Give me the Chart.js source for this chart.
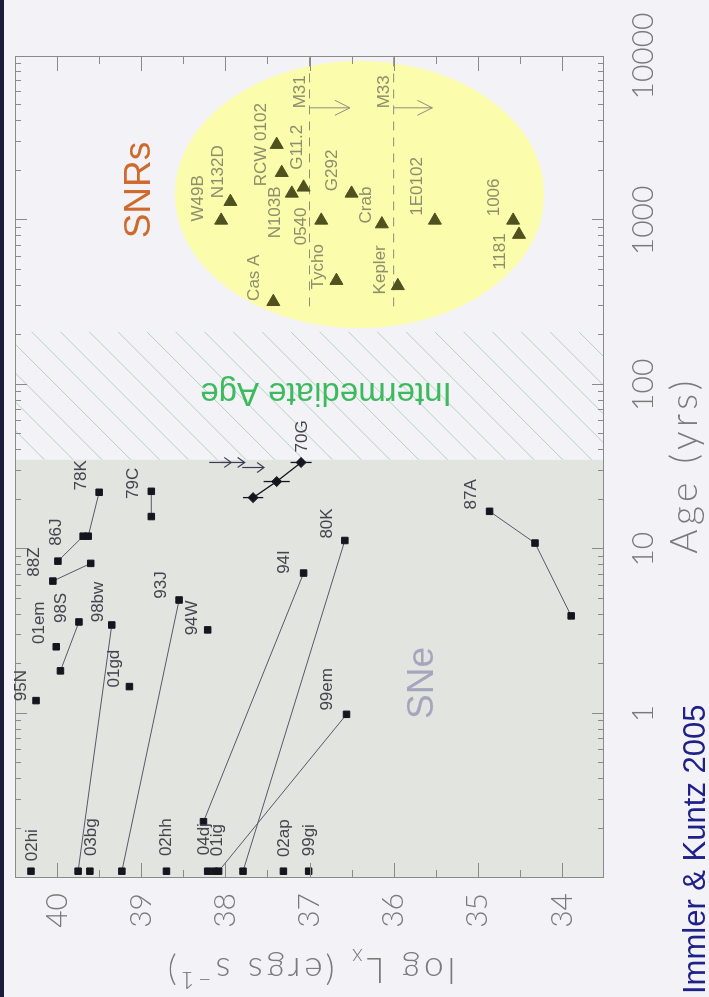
<!DOCTYPE html>
<html>
<head>
<meta charset="utf-8">
<script src="https://cdn.jsdelivr.net/npm/chart.js@4.4.1/dist/chart.umd.min.js"></script>
<style>
  html, body { margin: 0; padding: 0; width: 709px; height: 997px; overflow: hidden; background: #f3f3f7; }
  /* the figure is laid out landscape and turned a quarter turn to stand upright */
  #stage { position: absolute; left: 0; top: 0; width: 997px; height: 709px;
           transform-origin: 0 0; transform: translate(0, 997px) rotate(-90deg); }
  canvas { display: block; }
</style>
</head>
<body>
<div id="stage"><canvas id="chart" width="997" height="709"></canvas></div>
<script>
// ---- axes ----
const ageTicks = [1, 10, 100, 1000, 10000];
const ageTickLabels = ['1', '10', '100', '1000', '10000'];
const lxTicks = [34, 35, 36, 37, 38, 39, 40];
const lxTickLabels = ['34', '35', '36', '37', '38', '39', '40'];

// ---- supernovae: age (yr) and log Lx (erg/s) per object ----
const sneNames = ['02hi', '03bg', '02hh', '04dj', '01ig', '02ap', '99gi', '98bw', '93J', '99em', '80K', '94I',
                  '95N', '01gd', '01em', '94W', '98S', '88Z', '86J', '78K', '79C', '87A'];
const sneAges = [[0.11], [0.11], [0.11], [0.11], [0.11], [0.11], [0.11], [0.11, 3.46], [0.11, 4.91], [0.11, 0.99],
                 [0.11, 11.3], [0.22, 7.16], [1.2], [1.46], [2.55], [3.23], [1.82, 3.61], [6.4, 8.2], [8.46, 12.0],
                 [12.0, 22.2], [15.8, 22.5], [3.93, 10.9, 17.0]];
const sneLx = [[40.31], [39.61], [38.70], [38.21], [38.13], [37.31], [37.01], [39.75, 39.35], [39.23, 38.55],
               [38.08, 36.56], [37.79, 36.58], [38.26, 37.07], [40.25], [39.14], [40.01], [38.21], [39.96, 39.74],
               [40.05, 39.60], [39.99, 39.69], [39.63, 39.50], [38.88, 38.88], [33.89, 34.32, 34.86]];

// ---- SN 1970G: detections with errors, and upper limits ----
const g70Ages = [20.6, 25.8, 33.7];
const g70Lx = [37.67, 37.39, 37.10];
const g70Err = [0.12, 0.155, 0.125];
const g70LimitAges = [33.7, 33.7, 31.4];
const g70LimitLx = [38.19, 38.05, 37.80];
const g70LimitTipLx = [37.93, 37.77, 37.54];

// ---- supernova remnants ----
const snrNames = ['Cas A', 'W49B', 'N132D', 'RCW 0102', '', 'N103B', 'G11.2', '0540', 'Tycho', 'G292', 'Crab',
                  'Kepler', '1E0102', '1006', '1181'];
const snrAges = [320, 1000, 1300, 2890, 1950, 1460, 1590, 1000, 430, 1460, 950, 400, 1000, 1000, 820];
const snrLx = [37.43, 38.05, 37.94, 37.39, 37.33, 37.21, 37.07, 36.86, 36.68, 36.50, 36.14, 35.95, 35.51, 34.58, 34.51];

// ---- M31 / M33 remnant detection limits ----
const galaxyNames = ['M31', 'M33'];
const galaxyLimitLx = [37.0, 36.0];
const galaxyLimitAges = [300, 10000];
const galaxyArrowAge = 4840;
const galaxyArrowTipLx = [36.52, 35.54];

// ---- shaded zones ----
const sneZoneAges = [0.1, 35];
const midZoneAges = [35, 210];
const snrZoneAges = [221, 9330];
const snrZoneLx = [34.21, 38.60];

// ---- label placement (pixel nudges from the anchor mark) ----
const sneLabelAnchor = { '99em': 1, '80K': 1, '94I': 1, '98bw': 1, '93J': 1, '98S': 1, '78K': 1, '79C': 1, '87A': 2 };
const sneLabelNudge = {
  '02hi': [26, 1], '03bg': [34, 1], '02hh': [34, 0], '04dj': [32, -3], '01ig': [31, 3], '02ap': [33, 1],
  '99gi': [31, 1], '99em': [25, -19], '80K': [17, -18], '94I': [11, -19], '98bw': [23, -13], '93J': [15, -18],
  '95N': [15, -15], '01gd': [18, -15], '01em': [24, -17], '94W': [12, -15], '98S': [14, -18], '88Z': [19, -19],
  '86J': [29, -2], '78K': [17, -18], '79C': [8, -18], '87A': [17, -18]
};
const snrLabelNudge = [[24, -19], [22, -23], [30, -12], [0, -15], [0, 0], [-19, -17], [40, -6], [-6, -20],
                       [14, -18], [23, -19], [19, -16], [16, -18], [34, -18], [23, -19], [-17, -19]];

const C = {
  page: '#f3f3f7', strip: '#1b1b3a', sneZone: '#e2e4df', hatch: '#b3d2bc', snrZone: '#fcfcad',
  frame: '#8a8a8a', axisText: '#7a7a7a', sneMark: '#15151f', sneLine: '#58586c', sneText: '#45454f',
  snrMark: '#4f511f', snrText: '#8e8e6c', limit: '#8e8e82', g70Arrow: '#3c3c58',
  sneWord: '#a5a5be', snrWord: '#cf6a2c', midWord: '#3dba5d', credit: '#20208a'
};
const LABEL_FONT = '17px "Liberation Sans", Arial, sans-serif';
const AXIS_FAMILY = 'Lato, "Liberation Sans", sans-serif';

function arrowDown(ctx, x, y0, y1, wing, spread) {
  ctx.beginPath();
  ctx.moveTo(x, y0); ctx.lineTo(x, y1);
  ctx.moveTo(x - spread, y1 - wing); ctx.lineTo(x, y1); ctx.lineTo(x + spread, y1 - wing);
  ctx.stroke();
}

const decor = {
  id: 'decor',
  beforeDraw(chart) {
    const ctx = chart.ctx;
    ctx.save();
    ctx.fillStyle = C.page; ctx.fillRect(0, 0, chart.width, chart.height);
    ctx.fillStyle = C.strip; ctx.fillRect(0, 0, chart.width, 4);
    ctx.restore();
  },
  beforeDatasetsDraw(chart) {
    const { ctx, chartArea: a, scales: { x, y } } = chart;
    ctx.save();
    ctx.beginPath(); ctx.rect(a.left, a.top, a.right - a.left, a.bottom - a.top); ctx.clip();

    // young supernova zone
    const s0 = x.getPixelForValue(sneZoneAges[0]), s1 = x.getPixelForValue(sneZoneAges[1]);
    ctx.fillStyle = C.sneZone; ctx.fillRect(s0, a.top, s1 - s0, a.bottom - a.top);

    // intermediate-age band, hatched
    const h0 = x.getPixelForValue(midZoneAges[0]), h1 = x.getPixelForValue(midZoneAges[1]);
    ctx.save();
    ctx.beginPath(); ctx.rect(h0, a.top, h1 - h0, a.bottom - a.top); ctx.clip();
    ctx.strokeStyle = C.hatch; ctx.lineWidth = 1;
    const step = 28.8, base = h1 + 31.7;
    const k0 = Math.floor((h0 + a.top - base) / step) - 1;
    for (let c = base + k0 * step; c <= h1 + a.bottom + step; c += step) {
      ctx.beginPath(); ctx.moveTo(c - a.top, a.top); ctx.lineTo(c - a.bottom, a.bottom); ctx.stroke();
    }
    ctx.restore();

    // remnant zone
    const ex0 = x.getPixelForValue(snrZoneAges[0]), ex1 = x.getPixelForValue(snrZoneAges[1]);
    const ey0 = y.getPixelForValue(snrZoneLx[1]), ey1 = y.getPixelForValue(snrZoneLx[0]);
    ctx.fillStyle = C.snrZone;
    ctx.beginPath();
    ctx.ellipse((ex0 + ex1) / 2, (ey0 + ey1) / 2, (ex1 - ex0) / 2, (ey1 - ey0) / 2, 0, 0, Math.PI * 2);
    ctx.fill();

    // zone names
    ctx.font = '37px "Liberation Sans", Arial, sans-serif';
    ctx.textAlign = 'center'; ctx.textBaseline = 'alphabetic';
    ctx.fillStyle = C.sneWord; ctx.fillText('SNe', 314, 433);
    ctx.fillStyle = C.snrWord; ctx.fillText('SNRs', 807, 150);
    ctx.save();
    ctx.translate(614, 326); ctx.rotate(-Math.PI / 2);
    ctx.font = '33px "Liberation Sans", Arial, sans-serif';
    ctx.fillStyle = C.midWord; ctx.fillText('Intermediate Age', 0, 0);
    ctx.restore();

    // M31 / M33 limits
    ctx.strokeStyle = C.limit; ctx.fillStyle = C.snrText; ctx.lineWidth = 1;
    ctx.font = LABEL_FONT;
    galaxyNames.forEach((name, i) => {
      const ly = y.getPixelForValue(galaxyLimitLx[i]);
      ctx.setLineDash([9, 7]);
      ctx.beginPath();
      ctx.moveTo(x.getPixelForValue(galaxyLimitAges[0]), ly);
      ctx.lineTo(x.getPixelForValue(galaxyLimitAges[1]), ly);
      ctx.stroke();
      ctx.setLineDash([]);
      const ax = x.getPixelForValue(galaxyArrowAge);
      arrowDown(ctx, ax, ly, y.getPixelForValue(galaxyArrowTipLx[i]), 15, 7.5);
      ctx.textAlign = 'center'; ctx.textBaseline = 'alphabetic';
      ctx.fillText(name, ax + 16, ly - 5);
    });
    ctx.restore();

    // SN 1970G error bars and upper limits
    ctx.save();
    ctx.strokeStyle = C.sneMark; ctx.lineWidth = 1.3;
    g70Ages.forEach((age, i) => {
      const px = x.getPixelForValue(age);
      ctx.beginPath();
      ctx.moveTo(px, y.getPixelForValue(g70Lx[i] + g70Err[i]));
      ctx.lineTo(px, y.getPixelForValue(g70Lx[i] - g70Err[i]));
      ctx.stroke();
    });
    ctx.strokeStyle = C.g70Arrow; ctx.lineWidth = 1.2;
    g70LimitAges.forEach((age, i) => {
      arrowDown(ctx, x.getPixelForValue(age), y.getPixelForValue(g70LimitLx[i]),
                y.getPixelForValue(g70LimitTipLx[i]), 7, 5);
    });
    ctx.restore();
  },
  afterDatasetsDraw(chart) {
    const { ctx, chartArea: a, scales: { x, y } } = chart;
    ctx.save();
    // frame and inward ticks
    ctx.strokeStyle = C.frame; ctx.lineWidth = 1;
    ctx.strokeRect(a.left + 0.5, a.top + 0.5, a.right - a.left - 1, a.bottom - a.top - 1);
    ctx.beginPath();
    for (let d = -1; d <= 3; d++) {
      for (let m = 1; m <= 9; m++) {
        const v = m * Math.pow(10, d);
        if (v <= 0.1 || v > 10000) continue;
        const px = Math.round(x.getPixelForValue(v)) + 0.5;
        const len = m === 1 ? 12 : 6;
        ctx.moveTo(px, a.bottom); ctx.lineTo(px, a.bottom - len);
        ctx.moveTo(px, a.top); ctx.lineTo(px, a.top + len);
      }
    }
    for (let v = 34; v <= 40.01; v += 0.5) {
      const py = Math.round(y.getPixelForValue(v)) + 0.5;
      const len = Number.isInteger(v) ? 15 : 8;
      ctx.moveTo(a.left, py); ctx.lineTo(a.left + len, py);
      ctx.moveTo(a.right, py); ctx.lineTo(a.right - len, py);
    }
    ctx.stroke();

    // object names
    ctx.font = LABEL_FONT; ctx.textAlign = 'center'; ctx.textBaseline = 'middle';
    ctx.fillStyle = C.sneText;
    sneNames.forEach((name, i) => {
      const j = sneLabelAnchor[name] || 0;
      const [dx, dy] = sneLabelNudge[name];
      ctx.fillText(name, x.getPixelForValue(sneAges[i][j]) + dx, y.getPixelForValue(sneLx[i][j]) + dy);
    });
    const gi = g70Ages.length - 1;
    ctx.fillText('70G', x.getPixelForValue(g70Ages[gi]) + 26, y.getPixelForValue(g70Lx[gi]) + 1);
    ctx.fillStyle = C.snrText;
    snrNames.forEach((name, i) => {
      if (!name) return;
      const [dx, dy] = snrLabelNudge[i];
      ctx.fillText(name, x.getPixelForValue(snrAges[i]) + dx, y.getPixelForValue(snrLx[i]) + dy);
    });
    ctx.restore();
  },
  afterDraw(chart) {
    const ctx = chart.ctx, a = chart.chartArea;
    ctx.save();
    ctx.fillStyle = C.axisText;
    ctx.textBaseline = 'alphabetic';
    // horizontal axis title
    ctx.font = '300 37px ' + AXIS_FAMILY; ctx.textAlign = 'center';
    ctx.letterSpacing = '4.5px';
    ctx.fillText('Age (yrs)', (a.left + a.right) / 2 + 2, 697);
    // vertical axis title with sub/superscripts
    ctx.letterSpacing = '4px';
    const parts = [
      { t: 'log L', s: 35, dy: 0 }, { t: 'x', s: 23, dy: 9 }, { t: ' (ergs s', s: 35, dy: 0 },
      { t: '\u22121', s: 23, dy: -14 }, { t: ')', s: 35, dy: 0 }
    ];
    let total = 0;
    parts.forEach(p => { ctx.font = '300 ' + p.s + 'px ' + AXIS_FAMILY; p.w = ctx.measureText(p.t).width; total += p.w; });
    ctx.save();
    ctx.translate(39, (a.top + a.bottom) / 2); ctx.rotate(-Math.PI / 2);
    ctx.textAlign = 'left';
    let u = -total / 2;
    parts.forEach(p => { ctx.font = '300 ' + p.s + 'px ' + AXIS_FAMILY; ctx.fillText(p.t, u, p.dy); u += p.w; });
    ctx.restore();
    ctx.letterSpacing = '0px';
    // credit line
    ctx.font = '31px "Liberation Sans", Arial, sans-serif';
    ctx.fillStyle = C.credit; ctx.textAlign = 'left';
    ctx.fillText('Immler & Kuntz 2005', 3, 705);
    ctx.restore();
  }
};

const datasets = [];
sneNames.forEach((name, i) => {
  datasets.push({
    label: name,
    data: sneAges[i].map((age, j) => ({ x: age, y: sneLx[i][j] })),
    showLine: sneAges[i].length > 1,
    borderColor: C.sneLine, borderWidth: 1,
    pointStyle: 'rect', pointRadius: 4.6,
    pointBackgroundColor: C.sneMark, pointBorderColor: C.sneMark, pointBorderWidth: 1
  });
});
datasets.push({
  label: '70G',
  data: g70Ages.map((age, j) => ({ x: age, y: g70Lx[j] })),
  showLine: true, borderColor: C.sneMark, borderWidth: 1.3,
  pointStyle: 'rectRot', pointRadius: 5,
  pointBackgroundColor: C.sneMark, pointBorderColor: C.sneMark, pointBorderWidth: 1
});
datasets.push({
  label: 'SNRs',
  data: snrAges.map((age, j) => ({ x: age, y: snrLx[j] })),
  showLine: false,
  pointStyle: 'triangle', pointRadius: 7.5, rotation: 90,
  pointBackgroundColor: C.snrMark, pointBorderColor: C.snrMark, pointBorderWidth: 1
});

const tickFont = { family: AXIS_FAMILY, size: 30, weight: '300' };

new Chart(document.getElementById('chart'), {
  type: 'scatter',
  data: { datasets },
  plugins: [decor],
  options: {
    responsive: false, animation: false, devicePixelRatio: 1,
    layout: { padding: { left: 0, right: 56, top: 15, bottom: 0 } },
    plugins: { legend: { display: false }, tooltip: { enabled: false } },
    scales: {
      x: {
        type: 'logarithmic', position: 'bottom', min: 0.1, max: 10000,
        grid: { display: false, drawTicks: false }, border: { display: false },
        afterBuildTicks: s => { s.ticks = ageTicks.map(v => ({ value: v })); },
        afterFit: s => { s.height = 105; s.paddingLeft = 0; s.paddingRight = 0; },
        ticks: { font: tickFont, color: C.axisText, padding: 21, maxRotation: 0, autoSkip: false,
                 callback: (v, i) => ageTickLabels[i] }
      },
      y: {
        type: 'linear', min: 33.5, max: 40.5,
        grid: { display: false, drawTicks: false }, border: { display: false },
        afterBuildTicks: s => { s.ticks = lxTicks.map(v => ({ value: v })); },
        afterFit: s => { s.width = 119; s.paddingTop = 0; s.paddingBottom = 0; },
        ticks: { font: tickFont, color: C.axisText, padding: 15, autoSkip: false,
                 callback: (v, i) => lxTickLabels[i] }
      }
    }
  }
});
</script>
</body>
</html>
